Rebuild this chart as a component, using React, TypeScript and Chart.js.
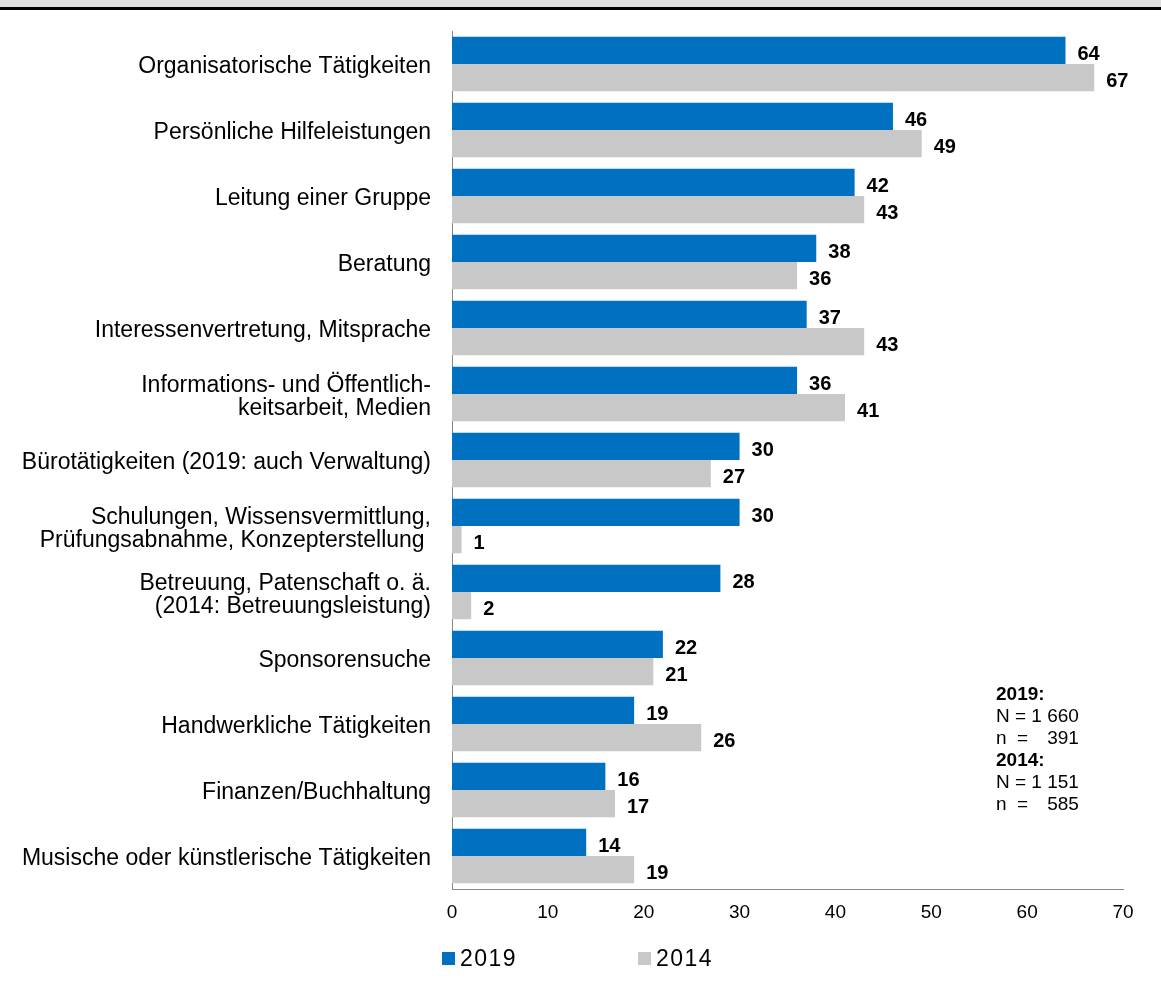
import React, { useEffect, useRef } from "react";
import { Chart, registerables } from "chart.js";

Chart.register(...registerables);

const FONT = '"Liberation Sans", Arial, Helvetica, sans-serif';

const categories: (string | string[])[] = [
  "Organisatorische Tätigkeiten",
  "Persönliche Hilfeleistungen",
  "Leitung einer Gruppe",
  "Beratung",
  "Interessenvertretung, Mitsprache",
  ["Informations- und Öffentlich-", "keitsarbeit, Medien"],
  "Bürotätigkeiten (2019: auch Verwaltung)",
  ["Schulungen, Wissensvermittlung,", "Prüfungsabnahme, Konzepterstellung "],
  ["Betreuung, Patenschaft o. ä.", "(2014: Betreuungsleistung)"],
  "Sponsorensuche",
  "Handwerkliche Tätigkeiten",
  "Finanzen/Buchhaltung",
  "Musische oder künstlerische Tätigkeiten",
];

const values2019 = [64, 46, 42, 38, 37, 36, 30, 30, 28, 22, 19, 16, 14];
const values2014 = [67, 49, 43, 36, 43, 41, 27, 1, 2, 21, 26, 17, 19];

const seriesLabels = ["2019", "2014"];
const seriesColors = ["#0070C0", "#C8C8C8"];

const xTickValues = [0, 10, 20, 30, 40, 50, 60, 70];

const noteYears = ["2019:", "2014:"];
const noteBigN = ["1 660", "1 151"];
const noteSmallN = ["391", "585"];

const valueLabelPlugin = {
  id: "valueLabels",
  afterDatasetsDraw(chart: any) {
    const ctx = chart.ctx;
    ctx.save();
    ctx.font = `bold 20px ${FONT}`;
    ctx.fillStyle = "#000";
    ctx.textAlign = "left";
    ctx.textBaseline = "middle";
    chart.data.datasets.forEach((ds: any, di: number) => {
      const meta = chart.getDatasetMeta(di);
      meta.data.forEach((bar: any, i: number) => {
        ctx.fillText(String(ds.data[i]), bar.x + 12, bar.y + 4);
      });
    });
    ctx.restore();
  },
};

const legendNotePlugin = {
  id: "legendNote",
  afterDraw(chart: any) {
    const ctx = chart.ctx;
    ctx.save();
    // legend
    const itemX = [442, 638];
    const boxTop = 942;
    chart.data.datasets.forEach((ds: any, i: number) => {
      ctx.fillStyle = ds.backgroundColor;
      ctx.fillRect(itemX[i], boxTop, 13, 13);
      ctx.fillStyle = "#000";
      ctx.font = `23px ${FONT}`;
      (ctx as any).letterSpacing = "1.5px";
      ctx.textAlign = "left";
      ctx.textBaseline = "middle";
      ctx.fillText(ds.label, itemX[i] + 18, boxTop + 7.5);
      (ctx as any).letterSpacing = "0px";
    });
    // note
    const nx = 996;
    let ny = 685;
    const lh = 22;
    ctx.textBaseline = "middle";
    for (let k = 0; k < noteYears.length; k++) {
      ctx.font = `bold 19px ${FONT}`;
      ctx.textAlign = "left";
      ctx.fillText(noteYears[k], nx, ny);
      ny += lh;
      ctx.font = `19px ${FONT}`;
      const bigLine = "N = " + noteBigN[k];
      ctx.fillText(bigLine, nx, ny);
      const endX = nx + ctx.measureText(bigLine).width;
      ny += lh;
      ctx.fillText("n  =", nx, ny);
      ctx.textAlign = "right";
      ctx.fillText(noteSmallN[k], endX, ny);
      ny += lh;
    }
    ctx.restore();
  },
};

export default function App() {
  const canvasRef = useRef<HTMLCanvasElement | null>(null);

  useEffect(() => {
    const canvas = canvasRef.current;
    if (!canvas) return;
    const chart = new Chart(canvas, {
      type: "bar",
      data: {
        labels: categories,
        datasets: [
          {
            label: seriesLabels[0],
            data: values2019,
            backgroundColor: seriesColors[0],
            borderWidth: 0,
            categoryPercentage: 0.826,
            barPercentage: 1.0,
          },
          {
            label: seriesLabels[1],
            data: values2014,
            backgroundColor: seriesColors[1],
            borderWidth: 0,
            categoryPercentage: 0.826,
            barPercentage: 1.0,
          },
        ],
      },
      options: {
        indexAxis: "y",
        responsive: false,
        animation: false,
        devicePixelRatio: 1,
        layout: { padding: { top: 21, right: 38, left: 0, bottom: 0 } },
        plugins: {
          legend: { display: false },
          tooltip: { enabled: false },
        },
        scales: {
          x: {
            min: xTickValues[0],
            max: xTickValues[xTickValues.length - 1],
            afterBuildTicks: (scale: any) => {
              scale.ticks = xTickValues.map((v) => ({ value: v }));
            },
            grid: { display: false, drawTicks: false },
            border: { display: true, color: "#868686", width: 1 },
            ticks: {
              color: "#000",
              padding: 12,
              font: { family: FONT, size: 19 },
              maxRotation: 0,
            },
            afterFit: (scale: any) => {
              scale.height = 102;
            },
          },
          y: {
            grid: { display: false, drawTicks: false },
            border: { display: true, color: "#868686", width: 1 },
            ticks: {
              color: "#000",
              padding: 21,
              autoSkip: false,
              labelOffset: 3,
              font: { family: FONT, size: 23, lineHeight: 1.0 },
            },
            afterFit: (scale: any) => {
              scale.width = 452;
              scale.paddingTop = 0;
              scale.paddingBottom = 0;
            },
          },
        },
      },
      plugins: [valueLabelPlugin, legendNotePlugin],
    } as any);
    return () => chart.destroy();
  }, []);

  return (
    <div
      style={{
        position: "absolute",
        left: 0,
        top: 0,
        width: 1161,
        height: 991,
        background: "#fff",
        overflow: "hidden",
      }}
    >
      <div style={{ height: 7, background: "#dedede" }} />
      <div style={{ height: 3, background: "#000" }} />
      <canvas ref={canvasRef} width={1161} height={981} />
    </div>
  );
}
